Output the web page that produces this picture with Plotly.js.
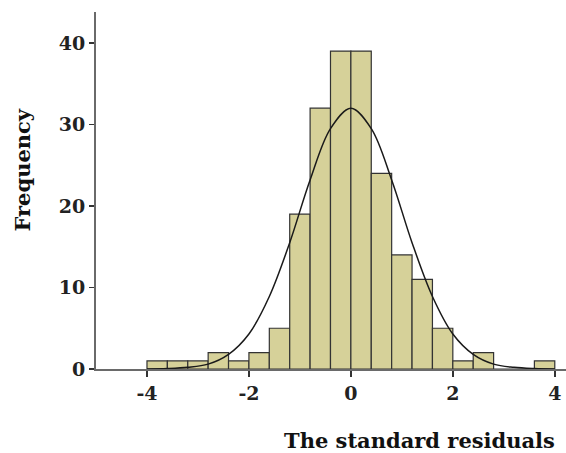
<!DOCTYPE html>
<html>
<head>
<meta charset="utf-8">
<script src="https://cdn.plot.ly/plotly-3.0.1.min.js"></script>
<style>html,body{margin:0;padding:0;background:#fff;}#chart{width:566px;height:453px;}</style>
</head>
<body>
<div id="chart"></div>
<script>
// Histogram bins (left edges, width 0.4) and counts
const binStarts = [-4.0, -3.6, -3.2, -2.8, -2.4, -2.0, -1.6, -1.2, -0.8, -0.4, 0.0, 0.4, 0.8, 1.2, 1.6, 2.0, 2.4, 2.8, 3.2, 3.6];
const counts    = [1,    1,    1,    2,    1,    2,    5,    19,   32,   39,   39,  24,  14,  11,  5,   1,   2,   0,   0,   1];
const binWidth = 0.4;

// Normal curve
const curveX = [-4.0, -3.6, -3.2, -2.8, -2.4, -2.0, -1.6, -1.2, -0.8, -0.4, 0.0, 0.4, 0.8, 1.2, 1.6, 2.0, 2.4, 2.8, 3.2, 3.6, 4.0];
const curveY = [0.0,  0.05, 0.2,  0.6,  1.8,  4.3,  8.9,  15.5, 23.2, 29.5, 32,  29.5, 23.2, 15.5, 8.9, 4.3, 1.8, 0.6, 0.2, 0.05, 0.0];

const yTicks = [0, 10, 20, 30, 40];
const xTicks = [-4, -2, 0, 2, 4];

const font = "'DejaVu Serif', serif";

const traces = [
  {
    type: 'bar',
    x: binStarts,
    y: counts,
    width: binWidth,
    offset: 0,
    marker: {color: '#d6d199', line: {color: '#333333', width: 1.2}},
    hoverinfo: 'x+y'
  },
  {
    type: 'scatter',
    mode: 'lines',
    x: curveX,
    y: curveY,
    line: {color: '#1a1a1a', width: 1.5, shape: 'spline'},
    hoverinfo: 'skip'
  }
];

const layout = {
  width: 566,
  height: 453,
  margin: {l: 96, r: 0, t: 12, b: 84},
  paper_bgcolor: '#ffffff',
  plot_bgcolor: '#ffffff',
  showlegend: false,
  bargap: 0,
  xaxis: {
    range: [-5, 4.22],
    tickvals: xTicks,
    ticktext: xTicks.map(String),
    showgrid: false,
    zeroline: false,
    showline: true,
    linecolor: '#6a6a6a',
    linewidth: 2,
    ticks: 'outside',
    ticklen: 6,
    tickwidth: 1.5,
    tickcolor: '#333',
    tickfont: {family: font, size: 19, color: '#222', weight: 'bold'}
  },
  yaxis: {
    range: [0, 43.8],
    tickvals: yTicks,
    ticktext: yTicks.map(String),
    showgrid: false,
    zeroline: false,
    showline: true,
    linecolor: '#6a6a6a',
    linewidth: 2,
    ticks: 'outside',
    ticklen: 5,
    tickwidth: 1.5,
    tickcolor: '#333',
    tickfont: {family: font, size: 19, color: '#222', weight: 'bold'}
  },
  annotations: [
    {
      text: '<b>The standard residuals</b>',
      xref: 'paper', yref: 'paper',
      x: 1, y: 0, xanchor: 'right', yanchor: 'bottom',
      xshift: -9, yshift: -86,
      showarrow: false,
      font: {family: font, size: 21, color: '#111'}
    },
    {
      text: '<b>Frequency</b>',
      xref: 'paper', yref: 'paper',
      x: 0, y: 0.5, xanchor: 'center', yanchor: 'middle',
      xshift: -74, yshift: 20,
      textangle: -90,
      showarrow: false,
      font: {family: font, size: 21, color: '#111'}
    }
  ]
};

Plotly.newPlot('chart', traces, layout, {displayModeBar: false, staticPlot: true});
</script>
</body>
</html>
